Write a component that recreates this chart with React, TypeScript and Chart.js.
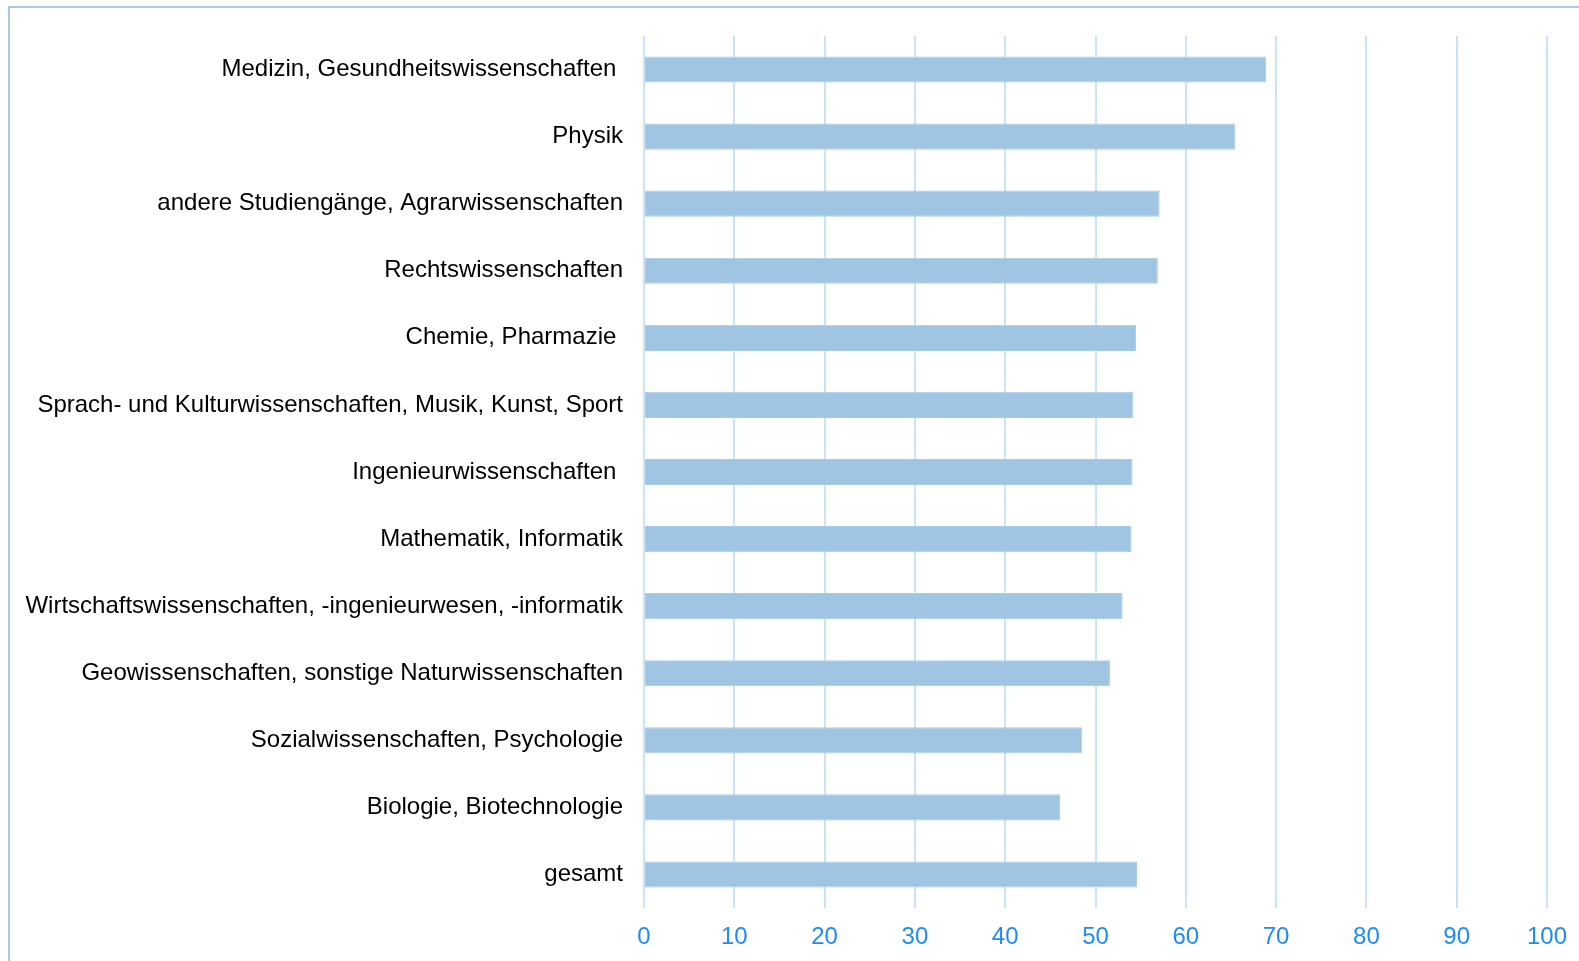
import React, { useEffect, useRef } from "react";
import { Chart, registerables } from "chart.js";

Chart.register(...registerables);

const categories: string[] = [
  "Medizin, Gesundheitswissenschaften ",
  "Physik",
  "andere Studiengänge, Agrarwissenschaften",
  "Rechtswissenschaften",
  "Chemie, Pharmazie ",
  "Sprach- und Kulturwissenschaften, Musik, Kunst, Sport",
  "Ingenieurwissenschaften ",
  "Mathematik, Informatik",
  "Wirtschaftswissenschaften, -ingenieurwesen, -informatik",
  "Geowissenschaften, sonstige Naturwissenschaften",
  "Sozialwissenschaften, Psychologie",
  "Biologie, Biotechnologie",
  "gesamt",
];

const values: number[] = [68.9, 65.5, 57.1, 56.9, 54.5, 54.2, 54.1, 54.0, 53.0, 51.6, 48.5, 46.1, 54.6];

const xMin = 0;
const xMax = 100;
const xStep = 10;

export default function App() {
  const ref = useRef<HTMLCanvasElement | null>(null);

  useEffect(() => {
    if (!ref.current) return;
    const chart = new Chart(ref.current, {
      type: "bar",
      data: {
        labels: categories,
        datasets: [
          {
            data: values,
            backgroundColor: "#9fc5e2",
            borderColor: "#a9cce6",
            borderWidth: 1,
            borderSkipped: false,
            categoryPercentage: 1,
            barPercentage: 0.39,
          },
        ],
      },
      options: {
        indexAxis: "y",
        animation: false,
        responsive: false,
        maintainAspectRatio: false,
        layout: { padding: { top: 36, right: 32, bottom: 0, left: 0 } },
        plugins: {
          legend: { display: false },
          tooltip: { enabled: false },
        },
        scales: {
          x: {
            min: xMin,
            max: xMax,
            ticks: {
              stepSize: xStep,
              color: "#1e8cf0",
              font: { family: "'Liberation Sans', Arial, sans-serif", size: 24 },
              padding: 15,
            },
            grid: {
              color: "#c9e3fb",
              lineWidth: 2,
              drawTicks: false,
            },
            border: { display: false },
            afterFit: (scale: any) => {
              scale.height = 53;
              scale.paddingRight = 0;
              scale.paddingLeft = 0;
            },
          },
          y: {
            ticks: {
              color: "#000000",
              font: { family: "'Liberation Sans', Arial, sans-serif", size: 24 },
              padding: 21,
              autoSkip: false,
            },
            grid: { display: false, drawTicks: false },
            border: { display: false },
            afterFit: (scale: any) => {
              scale.width = 644;
            },
          },
        },
      },
    });
    return () => chart.destroy();
  }, []);

  return (
    <div style={{ position: "absolute", left: 0, top: 0, width: 1579, height: 961, overflow: "hidden", background: "#fff" }}>
      <div
        style={{
          position: "absolute",
          left: 8,
          top: 6,
          width: 1700,
          height: 1100,
          borderTop: "2px solid #a9cae6",
          borderLeft: "2px solid #a9cae6",
        }}
      />
      <canvas ref={ref} width={1579} height={961} style={{ position: "absolute", left: 0, top: 0 }} />
    </div>
  );
}
